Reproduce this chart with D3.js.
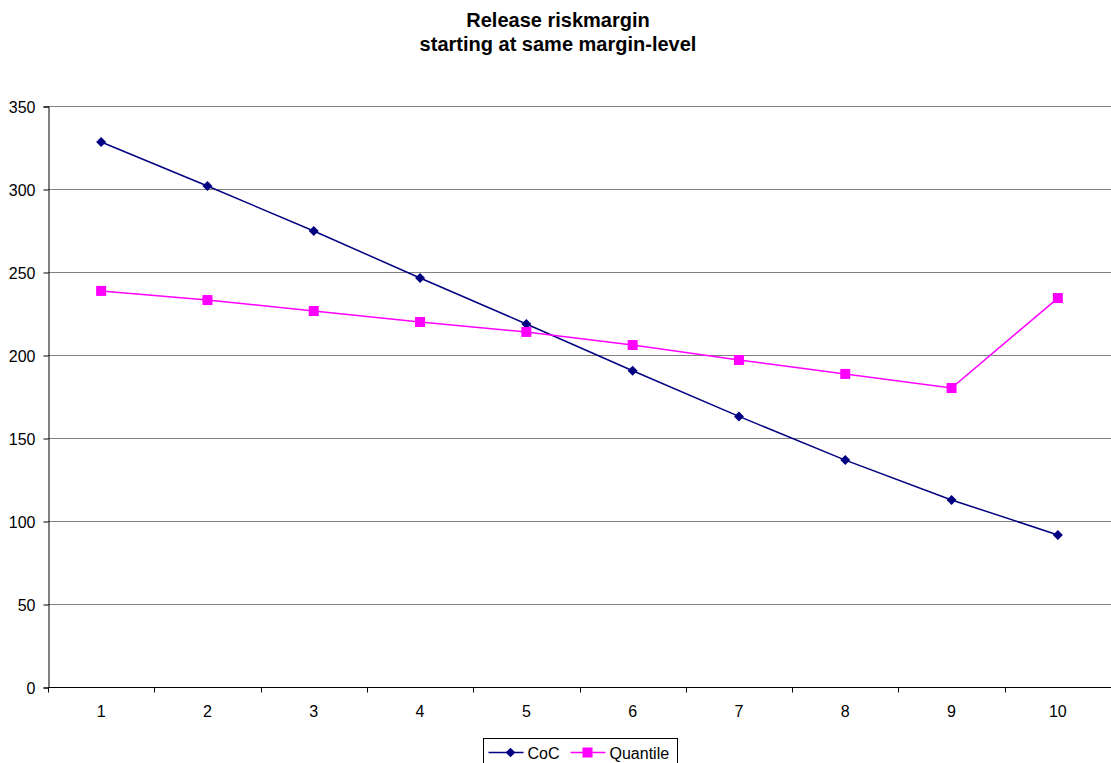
<!DOCTYPE html>
<html>
<head>
<meta charset="utf-8">
<script src="https://cdn.jsdelivr.net/npm/d3@7"></script>
<style>
  body { margin: 0; background: #fff; }
  svg { display: block; }
  svg text { font-family: "Liberation Sans", Arial, sans-serif; }
</style>
</head>
<body>
<div class="chart"></div>
<script>
const categories = [1, 2, 3, 4, 5, 6, 7, 8, 9, 10];
const cocValues = [328.3, 301.8, 274.7, 246.4, 218.7, 190.5, 163.0, 136.7, 112.7, 91.6];
const quantileValues = [238.6, 233.1, 226.5, 219.9, 213.9, 206.0, 197.0, 188.6, 180.1, 234.3];
const yTicks = [0, 50, 100, 150, 200, 250, 300, 350];
const seriesNames = ["CoC", "Quantile"];

const width = 1111, height = 763;
const margin = ({top: 106, right: 0, bottom: 76, left: 48});

const svg = d3.select('.chart')
              .append('svg')
              .attr("width", width)
              .attr("height", height);

const xScale = d3.scaleBand()
                 .domain(categories)
                 .range([margin.left, width - margin.right]);

const yScale = d3.scaleLinear()
                 .domain([0, 350])
                 .range([height - margin.bottom, margin.top]);

// gridlines
svg.append("g")
   .selectAll("line")
   .data(yTicks.filter(d => d > 0))
   .enter()
   .append("line")
   .attr("x1", margin.left)
   .attr("x2", width - margin.right)
   .attr("y1", d => yScale(d) + 0.5)
   .attr("y2", d => yScale(d) + 0.5)
   .attr("stroke", "#808080")
   .attr("stroke-width", 1);

// y axis
const yAxis = d3.axisLeft(yScale).tickValues(yTicks).tickSize(5).tickPadding(8);
svg.append("g")
   .attr("class", "axis y-axis")
   .attr("transform", `translate(${margin.left + 0.5},0.5)`)
   .call(yAxis)
   .call(g => g.select(".domain").attr("stroke", "#000"))
   .call(g => g.selectAll("text").attr("font-size", 16).attr("fill", "#000").attr("dy", "0.35em"));

// x axis: ticks between categories
const xAxisY = yScale(0) + 0.5;
svg.append("line")
   .attr("x1", margin.left)
   .attr("x2", width - margin.right)
   .attr("y1", xAxisY)
   .attr("y2", xAxisY)
   .attr("stroke", "#000");

svg.append("g")
   .selectAll("line")
   .data(categories)
   .enter()
   .append("line")
   .attr("x1", d => Math.round(xScale(d)) + 0.5)
   .attr("x2", d => Math.round(xScale(d)) + 0.5)
   .attr("y1", xAxisY)
   .attr("y2", xAxisY + 5)
   .attr("stroke", "#000");

svg.append("g")
   .selectAll("text")
   .data(categories)
   .enter()
   .append("text")
   .attr("x", d => xScale(d) + xScale.bandwidth() / 2)
   .attr("y", xAxisY + 29)
   .attr("text-anchor", "middle")
   .attr("font-size", 16)
   .text(d => d);

const cx = d => xScale(d) + xScale.bandwidth() / 2;
const line = d3.line()
               .x((d, i) => cx(categories[i]))
               .y(d => yScale(d));

// CoC
svg.append("path")
   .datum(cocValues)
   .attr("d", line)
   .attr("fill", "none")
   .attr("stroke", "#000080")
   .attr("stroke-width", 1.5);

svg.append("g")
   .selectAll("path")
   .data(cocValues)
   .enter()
   .append("path")
   .attr("d", d3.symbol().type(d3.symbolDiamond2).size(64))
   .attr("transform", (d, i) => `translate(${cx(categories[i])},${yScale(d)})`)
   .attr("fill", "#000080");

// Quantile
svg.append("path")
   .datum(quantileValues)
   .attr("d", line)
   .attr("fill", "none")
   .attr("stroke", "#FF00FF")
   .attr("stroke-width", 1.5);

svg.append("g")
   .selectAll("rect")
   .data(quantileValues)
   .enter()
   .append("rect")
   .attr("x", (d, i) => cx(categories[i]) - 5)
   .attr("y", d => yScale(d) - 5)
   .attr("width", 10)
   .attr("height", 10)
   .attr("fill", "#FF00FF");

// title
svg.append("text")
   .attr("x", 558)
   .attr("y", 27)
   .attr("text-anchor", "middle")
   .attr("font-size", 20)
   .attr("font-weight", "bold")
   .text("Release riskmargin");
svg.append("text")
   .attr("x", 558)
   .attr("y", 51)
   .attr("text-anchor", "middle")
   .attr("font-size", 20)
   .attr("font-weight", "bold")
   .text("starting at same margin-level");

// legend
const legend = svg.append("g").attr("transform", "translate(483.5,738.5)");
legend.append("rect")
      .attr("width", 194)
      .attr("height", 30)
      .attr("fill", "#fff")
      .attr("stroke", "#000");

const legendColors = ["#000080", "#FF00FF"];
const legendX = [5, 87];
seriesNames.forEach((name, i) => {
  const g = legend.append("g").attr("transform", `translate(${legendX[i]},14)`);
  g.append("line").attr("x1", 0).attr("x2", 35).attr("stroke", legendColors[i]).attr("stroke-width", 1.5);
  if (i === 0) {
    g.append("path").attr("d", d3.symbol().type(d3.symbolDiamond2).size(60)).attr("transform", "translate(22,0)").attr("fill", legendColors[i]);
  } else {
    g.append("rect").attr("x", 12).attr("y", -5).attr("width", 10).attr("height", 10).attr("fill", legendColors[i]);
  }
  g.append("text").attr("x", 39).attr("y", 6).attr("font-size", 16).text(name);
});
</script>
</body>
</html>
